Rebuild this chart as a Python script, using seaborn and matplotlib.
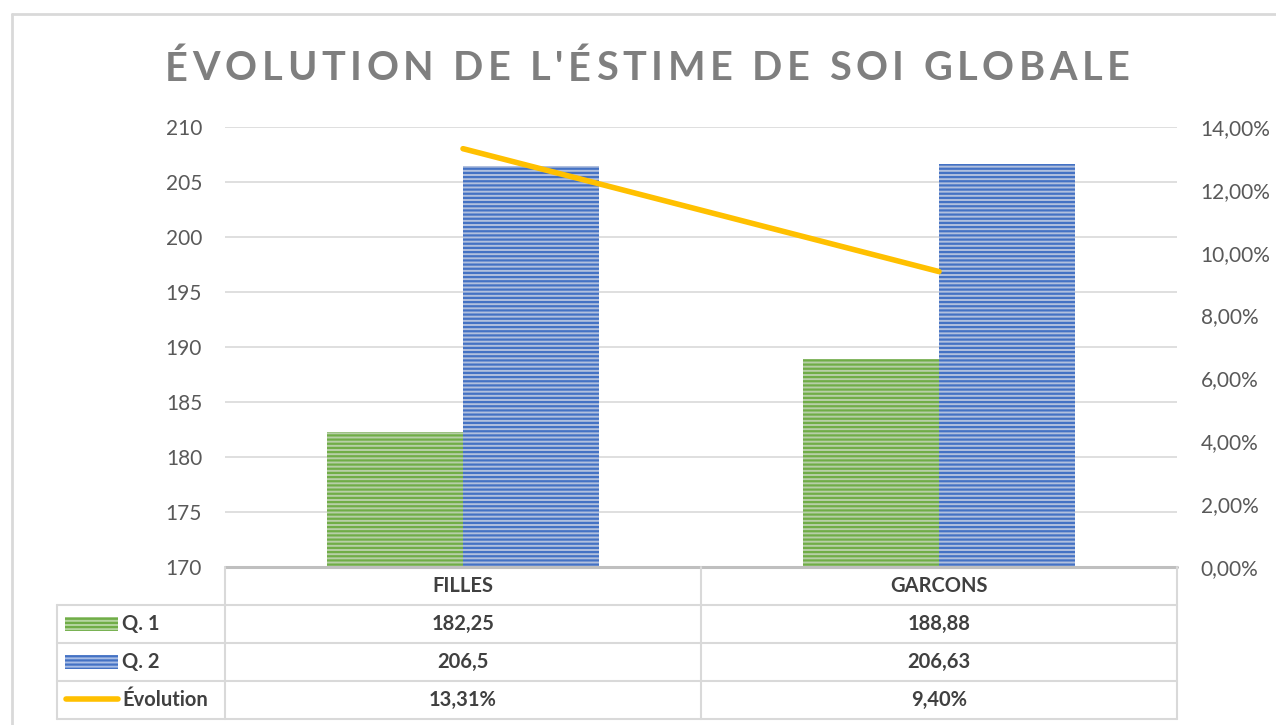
import matplotlib
matplotlib.use("Agg")
import matplotlib.pyplot as plt
import seaborn as sns
import pandas as pd
import numpy as np
from matplotlib.patches import Rectangle
from matplotlib.lines import Line2D

# data
categories = ["FILLES", "GARCONS"]
series_names = ["Q. 1", "Q. 2"]
q1_values = [182.25, 188.88]
q2_values = [206.5, 206.63]
evolution = [13.31, 9.40]
left_ticks = [170, 175, 180, 185, 190, 195, 200, 205, 210]
right_ticks = [0, 2, 4, 6, 8, 10, 12, 14]
title = "ÉVOLUTION DE L'ÉSTIME DE SOI GLOBALE"

GREEN_FACE, GREEN_HATCH = "#B5D6A0", "#70AD47"
BLUE_FACE, BLUE_HATCH = "#A9BEE6", "#4472C4"
YELLOW = "#FFC000"
GRID = "#D9D9D9"
TXT = "#595959"
BOLD_TXT = "#404040"

sns.set_theme(style="white")
plt.rcParams["font.family"] = ["Lato", "DejaVu Sans"]
plt.rcParams["hatch.linewidth"] = 1.6

W, H = 1276, 725
fig = plt.figure(figsize=(W / 100, H / 100), dpi=100)


def fx(px):
    return px / W


def fy(py):
    return 1 - py / H


ax_l, ax_r, ax_t, ax_b = 225, 1177, 127, 567
ax = fig.add_axes([fx(ax_l), fy(ax_b), fx(ax_r - ax_l), fy(ax_t) - fy(ax_b)])

df = pd.DataFrame({
    "cat": categories * 2,
    "serie": [series_names[0]] * 2 + [series_names[1]] * 2,
    "val": q1_values + q2_values,
})
sns.barplot(data=df, x="cat", y="val", hue="serie", ax=ax, width=0.572,
            palette=[GREEN_FACE, BLUE_FACE], legend=False, zorder=3)

hatch_cols = [GREEN_HATCH] * 2 + [BLUE_HATCH] * 2
for patch, hc in zip(ax.patches, hatch_cols):
    patch.set_hatch("----")
    patch.set_edgecolor(hc)
    patch.set_linewidth(0)

ax.set_ylim(170, 210)
ax.set_xlim(-0.5, 1.5)
ax.set_yticks(left_ticks)
ax.set_yticklabels([str(t) for t in left_ticks], fontsize=15, color=TXT)
ax.tick_params(axis="y", length=0, pad=16.5)
ax.set_xticks([])
ax.set_xlabel("")
ax.set_ylabel("")
ax.grid(axis="y", color=GRID, linewidth=1.2, zorder=0)
for s in ax.spines.values():
    s.set_visible(False)

ax2 = ax.twinx()
sns.lineplot(x=np.arange(len(categories)), y=evolution, ax=ax2, color=YELLOW,
             linewidth=4, solid_capstyle="round", zorder=5)
ax2.set_ylim(0, 14)
ax2.set_yticks(right_ticks)
ax2.set_yticklabels([f"{t:.2f}%".replace(".", ",") for t in right_ticks],
                    fontsize=15, color=TXT)
ax2.tick_params(axis="y", length=0, pad=17)
for s in ax2.spines.values():
    s.set_visible(False)
ax2.grid(False)

# title with letter spacing
renderer = fig.canvas.get_renderer()
chars = []
for ch in title:
    t = fig.text(0, fy(69), ch, fontsize=28.5, fontweight="bold", color="#7F7F7F",
                 va="center", ha="left")
    chars.append(t)
widths = [t.get_window_extent(renderer).width for t in chars]
target_width = 965
spacing = (target_width - sum(widths)) / (len(chars) - 1)
x = 165
for t, w in zip(chars, widths):
    t.set_x(fx(x))
    x += w + spacing

# outer chart border
fig.add_artist(Line2D([fx(12), fx(12)], [fy(14), 0], color="#D9D9D9", lw=2))
fig.add_artist(Line2D([fx(12), 1], [fy(14), fy(14)], color="#D9D9D9", lw=2))

# data table
row_y = [567, 605, 643, 681, 719]
col_x = [57, 225, 701, 1177]
lc = "#D9D9D9"
fig.add_artist(Line2D([fx(ax_l), fx(ax_r)], [fy(567), fy(567)], color="#BFBFBF", lw=2.2))
for yy in row_y[1:]:
    fig.add_artist(Line2D([fx(col_x[0]), fx(col_x[3])], [fy(yy), fy(yy)], color=lc, lw=1.5))
fig.add_artist(Line2D([fx(col_x[0]), fx(col_x[0])], [fy(605), fy(719)], color=lc, lw=1.5))
for xx in col_x[1:]:
    fig.add_artist(Line2D([fx(xx), fx(xx)], [fy(567), fy(719)], color=lc, lw=1.5))

cell_kw = dict(fontsize=14.5, fontweight="bold", color=BOLD_TXT, ha="center", va="center")
for j, cat in enumerate(categories):
    cx = (col_x[j + 1] + col_x[j + 2]) / 2
    fig.text(fx(cx), fy(586), cat, **cell_kw)
    fig.text(fx(cx), fy(624), str(q1_values[j]).replace(".", ","), **cell_kw)
    fig.text(fx(cx), fy(662), str(q2_values[j]).replace(".", ","), **cell_kw)
    fig.text(fx(cx), fy(700), f"{evolution[j]:.2f}%".replace(".", ","), **cell_kw)

# legend keys inside the table
for yy, face, hc in [(624, GREEN_FACE, GREEN_HATCH), (662, BLUE_FACE, BLUE_HATCH)]:
    r = Rectangle((fx(65), fy(yy + 7)), fx(53), fy(yy - 7) - fy(yy + 7),
                  transform=fig.transFigure, facecolor=face, edgecolor=hc,
                  hatch="----", linewidth=0)
    fig.add_artist(r)
fig.add_artist(Line2D([fx(66), fx(118)], [fy(699), fy(699)], color=YELLOW, lw=4,
                      solid_capstyle="round"))
lab_kw = dict(fontsize=14.5, fontweight="bold", color=BOLD_TXT, ha="left", va="center")
fig.text(fx(122), fy(624), series_names[0], **lab_kw)
fig.text(fx(122), fy(662), series_names[1], **lab_kw)
fig.text(fx(122), fy(700), "Évolution", **lab_kw)

fig.savefig("out.png", dpi=100)
